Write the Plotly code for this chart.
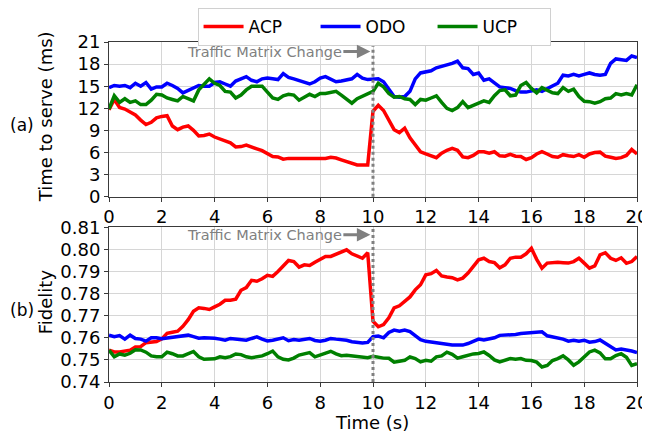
import numpy as np
import plotly.graph_objects as go

time_s = np.round(np.arange(0, 20.001, 0.2), 1)

serve_acp = [11.8, 13.2, 12.1, 11.9, 11.5, 11.1, 10.4, 9.8, 10.1, 10.7,
             10.9, 11.0, 9.6, 9.1, 9.45, 9.6, 9.0, 8.25, 8.3, 8.5,
             8.1, 7.85, 7.6, 7.3, 6.75, 6.8, 7.0, 6.8, 6.5, 6.25,
             5.8, 5.45, 5.4, 5.1, 5.2, 5.2, 5.15, 5.15, 5.2, 5.25,
             5.15, 5.2, 5.35, 5.25, 5.0, 4.75, 4.5, 4.3, 4.3, 4.3,
             11.6, 12.4, 11.7, 10.3, 9.1, 8.7, 9.3, 8.0, 7.05, 6.1,
             5.8, 5.5, 5.3, 5.9, 6.3, 6.55, 6.3, 5.4, 5.3, 5.6,
             6.1, 6.1, 5.9, 6.1, 5.55, 5.5, 5.75, 5.5, 5.45, 5.05,
             5.3, 5.8, 6.1, 5.8, 5.45, 5.35, 5.7, 5.55, 5.45, 5.7,
             5.35, 5.8, 6.0, 6.05, 5.5, 5.35, 5.2, 5.3, 5.6, 6.4,
             5.8]
serve_odo = [14.8, 15.1, 15.0, 15.1, 14.8, 15.4, 15.0, 15.5, 14.6, 14.9,
             14.9, 15.4, 15.1, 14.7, 14.1, 14.4, 14.7, 15.1, 15.0, 15.0,
             15.5, 15.6, 15.3, 15.0, 15.7, 16.0, 16.3, 15.8, 15.6, 16.0,
             16.1, 16.0, 15.9, 16.7, 16.2, 16.0, 15.8, 15.5, 15.3, 15.6,
             16.1, 16.3, 16.0, 15.6, 15.7, 15.8, 16.0, 16.6, 16.1, 15.9,
             16.0, 16.0, 15.6, 14.6, 13.6, 13.5, 13.6, 14.3, 16.0, 16.8,
             17.0, 17.1, 17.5, 17.7, 17.8, 18.1, 18.4, 17.5, 17.4, 16.6,
             16.8, 15.8, 16.0, 15.4, 14.9, 14.8, 14.7, 14.4, 14.2, 14.2,
             14.3, 14.5, 14.3, 14.7, 15.0, 15.4, 16.5, 16.4, 16.6, 16.4,
             16.6, 16.8, 16.6, 16.5, 16.6, 18.1, 18.7, 18.6, 18.5, 19.1,
             18.9]
serve_ucp = [11.9, 13.7, 12.8, 13.3, 12.8, 13.0, 12.5, 12.5, 13.1, 13.9,
             13.8, 13.4, 13.2, 13.0, 13.6, 13.3, 13.0, 14.5, 15.2, 16.0,
             15.4, 15.1, 14.3, 14.2, 13.4, 13.8, 14.5, 15.0, 15.0, 15.0,
             14.2, 13.4, 13.2, 13.7, 13.9, 13.8, 13.1, 13.5, 13.9, 13.6,
             14.0, 14.0, 14.2, 14.3, 13.8, 13.3, 12.7, 13.3, 13.6, 14.0,
             14.3, 15.4, 14.9, 14.0, 13.5, 13.6, 13.3, 13.2, 12.5, 13.2,
             13.1, 13.4, 13.7, 12.8, 12.0, 11.7, 12.1, 12.9, 12.1, 12.4,
             12.7, 13.0, 12.8, 13.7, 14.4, 14.5, 13.7, 13.8, 15.1, 15.5,
             14.7, 14.1, 14.8, 14.5, 14.1, 14.0, 14.8, 14.3, 14.6, 13.6,
             12.95, 12.9, 12.7, 12.9, 13.3, 13.4, 14.0, 13.8, 14.0, 13.8,
             15.2]

fid_acp = [0.7544, 0.7536, 0.7536, 0.7539, 0.7544, 0.7559, 0.7560, 0.7578, 0.7580, 0.7583,
           0.7595, 0.7620, 0.7625, 0.7630, 0.7652, 0.7682, 0.7720, 0.7736, 0.7733, 0.7728,
           0.7740, 0.7752, 0.7770, 0.7770, 0.7775, 0.7815, 0.7827, 0.7860, 0.7856, 0.7867,
           0.7883, 0.7878, 0.7900, 0.7928, 0.7950, 0.7945, 0.7920, 0.7930, 0.7927, 0.7942,
           0.7955, 0.7968, 0.7968, 0.7978, 0.7990, 0.7998, 0.7980, 0.7970, 0.7960, 0.7985,
           0.7675, 0.7650, 0.7660, 0.7690, 0.7735, 0.7745, 0.7765, 0.7785, 0.7817, 0.7840,
           0.7885, 0.7890, 0.7905, 0.7880, 0.7875, 0.7872, 0.7862, 0.7870, 0.7893, 0.7923,
           0.7953, 0.7960, 0.7945, 0.7940, 0.7917, 0.7930, 0.7960, 0.7965, 0.7965, 0.7980,
           0.8005, 0.7955, 0.7915, 0.7938, 0.7942, 0.7942, 0.7940, 0.7938, 0.7945, 0.7960,
           0.7938, 0.7915, 0.7925, 0.7975, 0.7985, 0.7960, 0.7950, 0.7962, 0.7937, 0.7945,
           0.7968]
fid_odo = [0.7612, 0.7605, 0.7610, 0.7594, 0.7612, 0.7597, 0.7594, 0.7585, 0.7600, 0.7600,
           0.7596, 0.7600, 0.7600, 0.7605, 0.7608, 0.7612, 0.7605, 0.7598, 0.7600, 0.7600,
           0.7598, 0.7594, 0.7589, 0.7597, 0.7594, 0.7592, 0.7589, 0.7597, 0.7604, 0.7594,
           0.7586, 0.7589, 0.7594, 0.7600, 0.7587, 0.7592, 0.7589, 0.7594, 0.7597, 0.7588,
           0.7585, 0.7589, 0.7597, 0.7594, 0.7592, 0.7589, 0.7582, 0.7579, 0.7576, 0.7579,
           0.7605, 0.7608, 0.7600, 0.7624, 0.7635, 0.7630, 0.7635, 0.7628, 0.7612, 0.7592,
           0.7584, 0.7580, 0.7577, 0.7572, 0.7569, 0.7567, 0.7567, 0.7567, 0.7574, 0.7584,
           0.7594, 0.7590, 0.7594, 0.7600, 0.7611, 0.7612, 0.7612, 0.7615, 0.7619, 0.7622,
           0.7624, 0.7624, 0.7627, 0.7609, 0.7605, 0.7600, 0.7594, 0.7585, 0.7589, 0.7585,
           0.7589, 0.7580, 0.7583, 0.7590, 0.7575, 0.7556, 0.7545, 0.7549, 0.7545, 0.7540,
           0.7533]
fid_ucp = [0.7544, 0.7514, 0.7527, 0.7521, 0.7530, 0.7546, 0.7545, 0.7535, 0.7518, 0.7514,
           0.7514, 0.7535, 0.7528, 0.7518, 0.7518, 0.7529, 0.7538, 0.7514, 0.7503, 0.7504,
           0.7505, 0.7514, 0.7510, 0.7515, 0.7527, 0.7524, 0.7514, 0.7510, 0.7514, 0.7518,
           0.7528, 0.7540, 0.7514, 0.7503, 0.7500, 0.7508, 0.7522, 0.7529, 0.7533, 0.7514,
           0.7521, 0.7529, 0.7539, 0.7527, 0.7519, 0.7521, 0.7518, 0.7518, 0.7512, 0.7510,
           0.7516, 0.7510, 0.7508, 0.7507, 0.7490, 0.7494, 0.7498, 0.7514, 0.7506, 0.7491,
           0.7498, 0.7494, 0.7514, 0.7518, 0.7535, 0.7525, 0.7508, 0.7514, 0.7521, 0.7527,
           0.7529, 0.7536, 0.7520, 0.7500, 0.7491, 0.7498, 0.7506, 0.7503, 0.7506, 0.7498,
           0.7497, 0.7490, 0.7468, 0.7475, 0.7497, 0.7506, 0.7518, 0.7500, 0.7476, 0.7491,
           0.7514, 0.7536, 0.7544, 0.7532, 0.7505, 0.7505, 0.7520, 0.7528, 0.7512, 0.7475,
           0.7483]

series_names = ["ACP", "ODO", "UCP"]
series_colors = ["#ff0000", "#0000ff", "#008000"]
x_ticks = list(range(0, 21, 2))
serve_ticks = list(range(0, 22, 3))
fid_ticks = [0.74, 0.75, 0.76, 0.77, 0.78, 0.79, 0.80, 0.81]
change_time = 10

FONT = "DejaVu Sans"
fig = go.Figure()
for vals, name, col in zip([serve_acp, serve_odo, serve_ucp], series_names, series_colors):
    fig.add_trace(go.Scatter(x=time_s, y=vals, mode="lines", name=name,
                             line=dict(color=col, width=3.5), xaxis="x", yaxis="y"))
for vals, name, col in zip([fid_acp, fid_odo, fid_ucp], series_names, series_colors):
    fig.add_trace(go.Scatter(x=time_s, y=vals, mode="lines", name=name, showlegend=False,
                             line=dict(color=col, width=3.5), xaxis="x2", yaxis="y2"))

axis_common = dict(showgrid=True, gridcolor="#d6d6d6", gridwidth=1, showline=True,
                   linecolor="#3a3a3a", linewidth=1, mirror=True, ticks="outside",
                   ticklen=4, tickcolor="#3a3a3a", zeroline=False, automargin=False,
                   tickfont=dict(family=FONT, size=18, color="black"))

# page body has an 8px margin, so the figure is 642x425 and offset by 8px
fig.update_layout(
    width=642, height=425,
    margin=dict(l=101, r=13, t=34, b=51, autoexpand=False),
    plot_bgcolor="white", paper_bgcolor="white",
    font=dict(family=FONT, size=18, color="black"),
    xaxis=dict(domain=[0, 1], anchor="y", range=[0, 20], tickvals=x_ticks, **axis_common),
    yaxis=dict(domain=[0.545, 1], anchor="x", range=[0, 21], tickvals=serve_ticks, **axis_common),
    xaxis2=dict(domain=[0, 1], anchor="y2", range=[0, 20], tickvals=x_ticks, **axis_common),
    yaxis2=dict(domain=[0, 0.455], anchor="x2", range=[0.74, 0.81], tickvals=fid_ticks,
                tickformat=".2f", **axis_common),
    legend=dict(orientation="h", x=0.502, xanchor="center", y=1.1, yanchor="top",
                bordercolor="#d0d0d0", borderwidth=1, bgcolor="white",
                font=dict(family=FONT, size=17), entrywidth=62, itemwidth=40),
    showlegend=True,
)

for yref in ["y domain", "y2 domain"]:
    xr = "x" if yref == "y domain" else "x2"
    fig.add_shape(type="line", xref=xr, yref=yref, x0=change_time, x1=change_time, y0=0, y1=1,
                  line=dict(color="#808080", width=3, dash="dot"))

# annotations
fig.add_annotation(xref="x", yref="y", x=change_time - 0.1, y=19.7, ax=-106, ay=0,
                   text="Traffic Matrix Change", showarrow=True, arrowhead=2, arrowsize=0.9,
                   arrowwidth=3, arrowcolor="#808080",
                   font=dict(family=FONT, size=14.5, color="#808080"))
fig.add_annotation(xref="x2", yref="y2", x=change_time - 0.1, y=0.8066, ax=-106, ay=0,
                   text="Traffic Matrix Change", showarrow=True, arrowhead=2, arrowsize=0.9,
                   arrowwidth=3, arrowcolor="#808080",
                   font=dict(family=FONT, size=14.5, color="#808080"))

fig.add_annotation(xref="paper", yref="paper", x=-0.121, y=0.779, text="Time to serve (ms)",
                   textangle=-90, showarrow=False, xanchor="center", yanchor="middle",
                   font=dict(family=FONT, size=18))
fig.add_annotation(xref="paper", yref="paper", x=-0.121, y=0.235, text="Fidelity",
                   textangle=-90, showarrow=False, xanchor="center", yanchor="middle",
                   font=dict(family=FONT, size=18))
fig.add_annotation(xref="paper", yref="paper", x=-0.1911, y=0.756, text="(a)",
                   showarrow=False, xanchor="left", yanchor="middle", font=dict(family=FONT, size=17))
fig.add_annotation(xref="paper", yref="paper", x=-0.1911, y=0.212, text="(b)",
                   showarrow=False, xanchor="left", yanchor="middle", font=dict(family=FONT, size=17))
fig.add_annotation(xref="paper", yref="paper", x=0.498, y=-0.118, text="Time (s)",
                   showarrow=False, xanchor="center", yanchor="middle", font=dict(family=FONT, size=18))

fig.write_html("out.html")
